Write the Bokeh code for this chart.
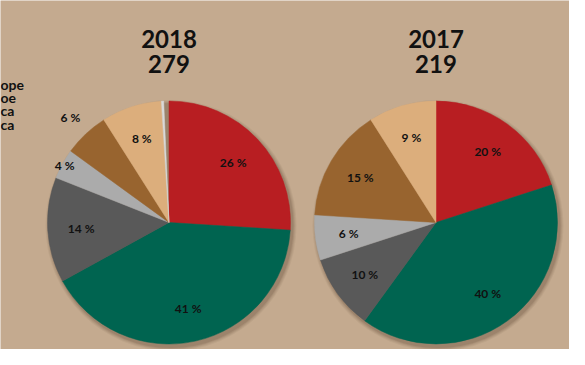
import numpy as np
from bokeh.plotting import figure
from bokeh.models import Range1d, ColumnDataSource
from bokeh.core.properties import value
from bokeh.embed import file_html
from bokeh.resources import INLINE

# ---- data ----
categories = ["Red", "Green", "Dark grey", "Light grey", "Brown", "Tan", "Other"]
values_2018 = [26, 41, 14, 4, 6, 8, 0.3]
values_2017 = [20, 40, 10, 6, 15, 9, 0]
titles = [("2018", "279"), ("2017", "219")]
legend_fragments = ["ope", "oe", "ca", "ca"]

colors = ["#B81E22", "#006450", "#595959", "#ABABAB", "#98642F", "#DCAE7C", "#D9D9D9"]
BG = "#C4AA8F"
FONT = "Lato"

W, H = 569, 349
p = figure(width=W, height=H, output_backend="svg", toolbar_location=None,
           x_range=Range1d(0, W), y_range=Range1d(0, H),
           min_border=0, background_fill_color=BG, border_fill_color=BG)
p.axis.visible = False
p.grid.visible = False
p.outline_line_color = None

def Y(y):  # picture y -> data y
    return H - y

pies = [
    dict(vals=values_2018, cx=168.5, cy=222, r=121.5,
         lab_r={3: 119, 4: 144}),
    dict(vals=values_2017, cx=435.5, cy=222, r=121.5, lab_r={}),
]

for k, pie in enumerate(pies):
    vals = np.array(pie["vals"], dtype=float)
    frac = vals / 100.0
    cum = np.concatenate([[0], np.cumsum(frac)])
    start = np.pi / 2 - cum[:-1] * 2 * np.pi
    end = np.pi / 2 - cum[1:] * 2 * np.pi
    cx, cy, r = pie["cx"], Y(pie["cy"]), pie["r"]
    # soft shadow
    for dr, a in [(4, 0.06), (3, 0.08), (2, 0.10), (1, 0.12)]:
        p.circle(x=[cx + 2], y=[cy - 3], radius=r + dr, fill_color="#4a3220",
                 fill_alpha=a, line_color=None)
    mask = vals > 0
    src = ColumnDataSource(dict(start=start[mask], end=end[mask],
                                color=[c for c, m in zip(colors, mask) if m]))
    p.wedge(x=cx, y=cy, radius=r, start_angle="start", end_angle="end",
            direction="clock", fill_color="color", line_color="color",
            line_width=0.5, source=src)
    # labels
    lx, ly, lt = [], [], []
    for i, v in enumerate(vals):
        if v < 1:
            continue
        mid = (start[i] + end[i]) / 2
        rr = pie["lab_r"].get(i, 88)
        lx.append(cx + rr * np.cos(mid))
        ly.append(cy + rr * np.sin(mid))
        lt.append(f"{int(round(v))} %")
    p.text(x=lx, y=ly, text=lt, text_align="center", text_baseline="middle",
           text_font=value(FONT), text_font_style="bold", text_font_size="12px",
           text_color="#111111")
    # title
    t1, t2 = titles[k]
    p.text(x=[cx, cx], y=[Y(38), Y(63)], text=[t1, t2], text_align="center",
           text_baseline="middle", text_font=value(FONT), text_font_style="bold",
           text_font_size="24px", text_color="#111111")

# legend fragments at left edge
p.text(x=[0] * 4, y=[Y(84), Y(97), Y(110), Y(124)], text=legend_fragments,
       text_align="left", text_baseline="middle", text_font=value(FONT),
       text_font_style="bold", text_font_size="14px", text_color="#111111")

open("out.html", "w").write(file_html(p, INLINE))
